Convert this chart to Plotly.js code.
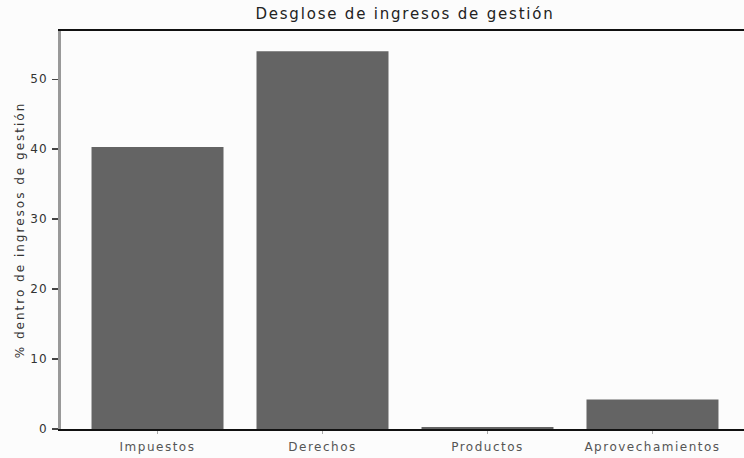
<!DOCTYPE html>
<html>
<head>
<meta charset="utf-8">
<script src="https://cdn.plot.ly/plotly-3.0.1.min.js"></script>
<style>
html, body { margin: 0; padding: 0; overflow: hidden; background: #fcfcfc; }
#chart { width: 750px; height: 458px; }
#chart .xtick text { letter-spacing: 1.5px; }
#chart .ytick text { letter-spacing: 1px; }
#chart .gtitle { letter-spacing: 1.8px; }
#chart .ytitle { letter-spacing: 2px; }
</style>
</head>
<body>
<div id="chart"></div>
<script>
const categories = ["Impuestos", "Derechos", "Productos", "Aprovechamientos"];
const values = [40.3, 54.0, 0.3, 4.2];
const yTicks = [0, 10, 20, 30, 40, 50];

const trace = {
  type: "bar",
  x: categories,
  y: values,
  width: 0.8,
  marker: { color: "#646464", line: { width: 0 } },
  hoverinfo: "x+y"
};

const layout = {
  width: 750,
  height: 458,
  margin: { l: 61, r: 1, t: 31, b: 29 },
  paper_bgcolor: "#fcfcfc",
  plot_bgcolor: "#fcfcfc",
  showlegend: false,
  font: { family: "DejaVu Sans, Verdana, sans-serif", color: "#333" },
  title: {
    text: "Desglose de ingresos de gestión",
    font: { size: 15, color: "#222" },
    x: 0.5, xref: "paper",
    y: 1 - 14 / 458, yref: "container", yanchor: "middle"
  },
  xaxis: {
    type: "category",
    range: [-0.585, 3.585],
    showline: true, linecolor: "#111", linewidth: 2, mirror: true,
    ticks: "outside", ticklen: 3, tickcolor: "#aaa",
    ticklabelstandoff: 3,
    tickfont: { size: 12, color: "#555" },
    showgrid: false, zeroline: false
  },
  yaxis: {
    range: [0, 56.9],
    tickvals: yTicks,
    ticktext: yTicks.map(String),
    showline: true, linecolor: "#999", linewidth: 3,
    ticks: "outside", ticklen: 6, tickcolor: "#444", tickwidth: 1.5,
    ticklabelstandoff: 2,
    tickfont: { size: 12, color: "#333" },
    showgrid: false, zeroline: false,
    title: { text: "% dentro de ingresos de gestión", font: { size: 12, color: "#333" }, standoff: 6 }
  }
};

Plotly.newPlot("chart", [trace], layout, { displayModeBar: false, staticPlot: true });
</script>
</body>
</html>
